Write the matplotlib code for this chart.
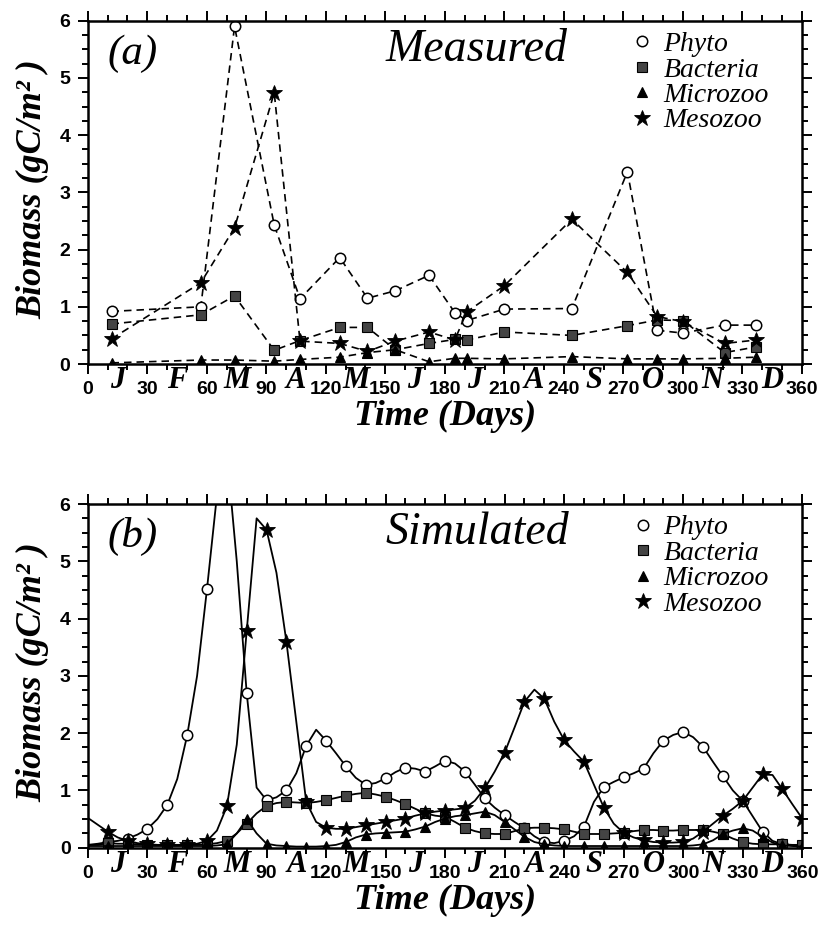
import matplotlib
matplotlib.use("Agg")
import matplotlib.pyplot as plt
from matplotlib.lines import Line2D
from matplotlib.ticker import MultipleLocator

# ---- panel (a): measured, sampling days ----
meas_day = [12, 57, 74, 94, 107, 127, 141, 155, 172, 185, 191, 210, 244, 272, 287, 300, 321, 337]
meas_phyto = [0.92, 1.00, 5.90, 2.43, 1.14, 1.86, 1.15, 1.28, 1.55, 0.90, 0.76, 0.96, 0.97, 3.36, 0.59, 0.54, 0.68, 0.68]
meas_bact = [0.70, 0.86, 1.19, 0.24, 0.41, 0.64, 0.64, 0.25, 0.36, 0.43, 0.42, 0.56, 0.50, 0.67, 0.77, 0.76, 0.20, 0.30]
meas_micro = [0.02, 0.07, 0.07, 0.05, 0.08, 0.12, 0.20, 0.25, 0.04, 0.10, 0.10, 0.09, 0.13, 0.09, 0.09, 0.09, 0.10, 0.12]
meas_meso = [0.44, 1.42, 2.38, 4.74, 0.40, 0.36, 0.22, 0.40, 0.56, 0.42, 0.91, 1.37, 2.53, 1.60, 0.83, 0.74, 0.36, 0.42]

# ---- panel (b): simulated, every 5 days ----
sim_day = list(range(0, 361, 5))
sim_phyto = [0.05, 0.07, 0.10, 0.12, 0.16, 0.23, 0.33, 0.50, 0.75, 1.20,
             1.96, 3.00, 4.52, 6.15, 6.90, 5.00, 2.70, 1.05, 0.83, 0.88,
             1.00, 1.30, 1.78, 2.06, 1.87, 1.65, 1.42, 1.22, 1.10, 1.13,
             1.21, 1.32, 1.40, 1.38, 1.33, 1.42, 1.52, 1.47, 1.33, 1.10,
             0.86, 0.70, 0.57, 0.45, 0.34, 0.20, 0.10, 0.08, 0.12, 0.20,
             0.37, 0.80, 1.06, 1.15, 1.23, 1.30, 1.38, 1.65, 1.87, 1.97,
             2.02, 1.93, 1.76, 1.50, 1.25, 1.00, 0.82, 0.55, 0.28, 0.12,
             0.06, 0.04, 0.03]
sim_bact = [0.05, 0.05, 0.08, 0.07, 0.07, 0.06, 0.05, 0.05, 0.05, 0.05,
            0.05, 0.05, 0.06, 0.08, 0.12, 0.25, 0.42, 0.60, 0.73, 0.78,
            0.80, 0.79, 0.78, 0.80, 0.83, 0.87, 0.91, 0.94, 0.96, 0.93,
            0.89, 0.83, 0.76, 0.68, 0.60, 0.56, 0.54, 0.45, 0.35, 0.29,
            0.25, 0.24, 0.24, 0.29, 0.34, 0.35, 0.35, 0.34, 0.32, 0.28,
            0.24, 0.24, 0.24, 0.25, 0.26, 0.29, 0.31, 0.31, 0.30, 0.30,
            0.31, 0.31, 0.31, 0.28, 0.24, 0.16, 0.10, 0.07, 0.06, 0.06,
            0.06, 0.05, 0.05]
sim_micro = [0.03, 0.03, 0.03, 0.03, 0.03, 0.03, 0.03, 0.03, 0.03, 0.03,
             0.03, 0.03, 0.03, 0.04, 0.06, 0.25, 0.50, 0.25, 0.07, 0.04,
             0.03, 0.02, 0.02, 0.02, 0.03, 0.05, 0.10, 0.18, 0.23, 0.25,
             0.26, 0.27, 0.28, 0.32, 0.37, 0.45, 0.51, 0.55, 0.57, 0.60,
             0.63, 0.57, 0.45, 0.32, 0.19, 0.10, 0.06, 0.04, 0.03, 0.03,
             0.03, 0.03, 0.03, 0.03, 0.03, 0.03, 0.03, 0.03, 0.03, 0.03,
             0.03, 0.04, 0.06, 0.13, 0.24, 0.30, 0.34, 0.30, 0.19, 0.09,
             0.04, 0.03, 0.02]
sim_meso = [0.52, 0.40, 0.28, 0.18, 0.12, 0.08, 0.06, 0.05, 0.04, 0.04,
            0.05, 0.07, 0.12, 0.30, 0.72, 1.80, 3.78, 5.75, 5.55, 4.80,
            3.60, 2.20, 0.80, 0.45, 0.35, 0.33, 0.33, 0.36, 0.39, 0.42,
            0.45, 0.48, 0.51, 0.56, 0.60, 0.63, 0.65, 0.67, 0.69, 0.82,
            1.04, 1.33, 1.66, 2.10, 2.55, 2.76, 2.60, 2.20, 1.88, 1.68,
            1.50, 1.10, 0.70, 0.42, 0.26, 0.18, 0.13, 0.10, 0.09, 0.09,
            0.10, 0.16, 0.28, 0.42, 0.56, 0.68, 0.82, 1.05, 1.28, 1.27,
            1.02, 0.76, 0.51]

month_day = [15, 45, 75, 105, 135, 165, 195, 225, 255, 285, 315, 345]
month_lab = ["J", "F", "M", "A", "M", "J", "J", "A", "S", "O", "N", "D"]
names = ["Phyto", "Bacteria", "Microzoo", "Mesozoo"]

SERIF = "Liberation Serif"
SANS = "Liberation Sans"

styles = [
    dict(marker="o", mfc="white", mec="black", ms=7.5, mew=1.1),
    dict(marker="s", mfc="#444444", mec="black", ms=6.5, mew=0.8),
    dict(marker="^", mfc="black", mec="black", ms=7.5, mew=0.8),
    dict(marker="*", mfc="black", mec="black", ms=12, mew=0.6),
]


def style_axes(ax, tag, title):
    ax.set_xlim(0, 360)
    ax.set_ylim(0, 6)
    ax.xaxis.set_major_locator(MultipleLocator(30))
    ax.xaxis.set_minor_locator(MultipleLocator(10))
    ax.yaxis.set_major_locator(MultipleLocator(1))
    ax.yaxis.set_minor_locator(MultipleLocator(0.25))
    ax.tick_params(which="both", direction="out", top=True, right=True, width=1.4)
    ax.tick_params(which="major", length=7.5, pad=5)
    ax.tick_params(which="minor", length=4)
    for lab in ax.get_xticklabels() + ax.get_yticklabels():
        lab.set_fontfamily(SANS)
        lab.set_fontweight("bold")
        lab.set_fontsize(14)
    for sp in ax.spines.values():
        sp.set_linewidth(1.8)
    for d, m in zip(month_day, month_lab):
        ax.annotate(m, xy=(d, 0), xycoords=("data", "axes fraction"),
                    xytext=(0, -12), textcoords="offset points",
                    ha="center", va="center", fontsize=22,
                    family=SERIF, style="italic", weight="bold")
    ax.text(0.5, -0.152, "Time (Days)", transform=ax.transAxes, ha="center",
            va="center", fontsize=26, family=SERIF, style="italic", weight="bold")
    ax.text(-0.077, 0.51, "Biomass (gC/m\u00b2 )", transform=ax.transAxes,
            rotation=90, ha="center", va="center", fontsize=26,
            family=SERIF, style="italic", weight="bold")
    ax.text(0.063, 0.905, tag, transform=ax.transAxes, ha="center", va="center",
            fontsize=31, family=SERIF, style="italic")
    ax.text(0.545, 0.915, title, transform=ax.transAxes, ha="center", va="center",
            fontsize=33, family=SERIF, style="italic")
    handles = [Line2D([], [], linestyle="none", **s) for s in styles]
    ax.legend(handles, names, loc="upper left", bbox_to_anchor=(0.763, 0.968),
              frameon=False, borderpad=0, borderaxespad=0, handlelength=0.7,
              handletextpad=0.4, labelspacing=0.0,
              prop=dict(family=SERIF, style="italic", size=20))


fig = plt.figure(figsize=(8.22, 9.27), dpi=100)
ax1 = fig.add_axes([0.1067, 0.6073, 0.869, 0.3704])
ax2 = fig.add_axes([0.107, 0.0855, 0.869, 0.3708])

# measured: dashed lines
for vals, s in zip([meas_phyto, meas_bact, meas_micro, meas_meso], styles):
    ax1.plot(meas_day, vals, color="black", lw=1.2, linestyle=(0, (4.5, 3)), **s)
style_axes(ax1, "(a)", "Measured")

# simulated: solid lines, marker every 10 days
for vals, s in zip([sim_phyto, sim_bact, sim_micro, sim_meso], styles):
    ax2.plot(sim_day, vals, color="black", lw=1.3, markevery=slice(2, None, 2), **s)
style_axes(ax2, "(b)", "Simulated")

fig.savefig("out.png", dpi=100)
